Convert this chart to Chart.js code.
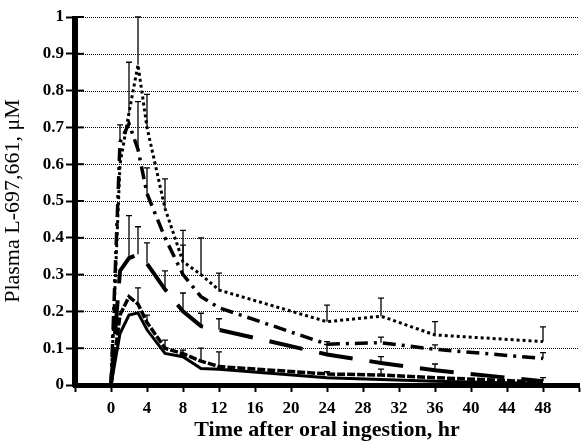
<!DOCTYPE html>
<html>
<head>
<meta charset="utf-8">
<script src="https://cdn.jsdelivr.net/npm/chart.js@4.4.1/dist/chart.umd.min.js"></script>
<style>
html, body { margin: 0; padding: 0; background: #fff; }
#wrap { width: 585px; height: 444px; }
</style>
</head>
<body>
<div id="wrap"><canvas id="plasma"></canvas></div>
<script>
var hours = [0, 1, 2, 3, 4, 6, 8, 10, 12, 24, 30, 36, 48]

// series, uM
var dotted    = [0, 0.60, 0.74, 0.87, 0.70, 0.48, 0.335, 0.30, 0.258, 0.172, 0.187, 0.136, 0.118]
var dottedErr = [null, null, 0.877, 1.0, 0.79, 0.56, 0.42, 0.40, 0.304, 0.217, 0.236, 0.172, 0.158]

var dashDot    = [0, 0.66, 0.71, 0.64, 0.52, 0.40, 0.30, 0.24, 0.21, 0.111, 0.115, 0.097, 0.072]
var dashDotErr = [null, 0.707, null, 0.77, 0.59, null, 0.38, null, null, 0.118, 0.13, 0.109, 0.088]

var longDash    = [0, 0.31, 0.345, 0.355, 0.33, 0.26, 0.20, 0.16, 0.15, 0.083, 0.06, 0.04, 0.01]
var longDashErr = [null, null, 0.46, 0.43, 0.386, 0.31, 0.25, 0.195, 0.18, 0.11, 0.077, 0.057, 0.02]

var shortDash    = [0, 0.19, 0.24, 0.22, 0.17, 0.10, 0.085, 0.065, 0.05, 0.03, 0.027, 0.02, 0.008]
var shortDashErr = [null, null, null, 0.264, 0.19, 0.122, 0.095, 0.10, 0.09, 0.036, 0.043, null, null]

var solid = [0, 0.14, 0.19, 0.196, 0.15, 0.086, 0.077, 0.045, 0.043, 0.02, 0.015, 0.01, 0.004]

function pts(vals) {
    return hours.map(function(h, i) { return {x: h, y: vals[i]} })
}

var serif = "'Liberation Serif', 'DejaVu Serif', serif"

// dotted grid behind the lines
var dottedGrid = {
    id: 'dottedGrid',
    beforeDatasetsDraw: function(chart) {
        var ctx = chart.ctx
        var y = chart.scales.y
        var area = chart.chartArea
        ctx.save()
        ctx.strokeStyle = '#000'
        ctx.lineWidth = 1
        ctx.setLineDash([1, 1])
        y.ticks.forEach(function(t) {
            if (t.value === 0) return
            var py = Math.round(y.getPixelForValue(t.value)) + 0.5
            ctx.beginPath()
            ctx.moveTo(area.left, py)
            ctx.lineTo(area.right, py)
            ctx.stroke()
        })
        ctx.restore()
    }
}

// thick y axis, y tick marks crossing into the plot, upward error bars
var errorBars = {
    id: 'errorBars',
    afterDatasetsDraw: function(chart) {
        var ctx = chart.ctx
        var x = chart.scales.x, y = chart.scales.y
        var area = chart.chartArea
        ctx.save()
        ctx.strokeStyle = '#000'
        ctx.lineWidth = 6
        ctx.beginPath()
        ctx.moveTo(area.left, area.top - 1)
        ctx.lineTo(area.left, area.bottom + 2)
        ctx.stroke()
        ctx.lineWidth = 2
        y.ticks.forEach(function(t) {
            var py = y.getPixelForValue(t.value)
            ctx.beginPath()
            ctx.moveTo(area.left, py)
            ctx.lineTo(area.left + 9, py)
            ctx.stroke()
        })
        ctx.lineWidth = 1.3
        chart.data.datasets.forEach(function(ds) {
            if (!ds.errTop) return
            ds.data.forEach(function(p, i) {
                var top = ds.errTop[i]
                if (top == null) return
                var px = x.getPixelForValue(p.x)
                var y0 = y.getPixelForValue(p.y)
                var y1 = y.getPixelForValue(top)
                ctx.beginPath()
                ctx.moveTo(px, y0)
                ctx.lineTo(px, y1)
                ctx.moveTo(px - 3, y1)
                ctx.lineTo(px + 3, y1)
                ctx.stroke()
            })
        })
        ctx.restore()
    }
}

function line(vals, err, dash, width) {
    return {
        data: pts(vals),
        errTop: err,
        borderColor: '#000',
        borderWidth: width,
        borderDash: dash,
        pointRadius: 0,
        tension: 0,
        fill: false
    }
}

var ctx = document.getElementById('plasma')
var chart = new Chart(ctx, {
    type: 'line',
    data: {
        datasets: [
            line(dotted, dottedErr, [3, 3], 3),
            line(dashDot, dashDotErr, [13, 6, 3, 6], 3.5),
            line(longDash, longDashErr, [34, 17], 4),
            line(shortDash, shortDashErr, [8, 2], 3.5),
            line(solid, null, [], 3)
        ]
    },
    plugins: [dottedGrid, errorBars],
    options: {
        responsive: true,
        maintainAspectRatio: false,
        animation: false,
        layout: { padding: { top: 17, right: 0, left: 0, bottom: 0 } },
        plugins: {
            legend: { display: false },
            tooltip: { enabled: false }
        },
        scales: {
            x: {
                type: 'linear',
                min: -4,
                max: 52,
                afterFit: function(scale) { scale.height = 59 },
                ticks: {
                    stepSize: 4,
                    autoSkip: false,
                    maxRotation: 0,
                    padding: 6,
                    color: '#000',
                    font: { family: serif, size: 17, weight: 'bold' },
                    callback: function(value) {
                        return (value < 0 || value > 48) ? '' : value
                    }
                },
                grid: {
                    drawOnChartArea: false,
                    drawTicks: true,
                    tickLength: 7,
                    tickWidth: 2,
                    tickColor: '#000'
                },
                border: { display: true, width: 5, color: '#000' },
                title: {
                    display: true,
                    text: 'Time after oral ingestion, hr',
                    color: '#000',
                    font: { family: serif, size: 22, weight: 'bold' },
                    padding: { top: 0, bottom: 0 }
                }
            },
            y: {
                min: 0,
                max: 1,
                afterFit: function(scale) { scale.width = 75 },
                ticks: {
                    stepSize: 0.1,
                    padding: 2,
                    color: '#000',
                    font: { family: serif, size: 17, weight: 'bold' },
                    callback: function(value) {
                        if (value === 0) return '0'
                        if (value === 1) return '1'
                        return value.toFixed(1)
                    }
                },
                grid: {
                    drawOnChartArea: false,
                    tickLength: 9,
                    tickWidth: 2,
                    tickColor: '#000'
                },
                border: { display: false },
                title: {
                    display: true,
                    text: 'Plasma L-697,661, \u03bcM',
                    color: '#000',
                    font: { family: serif, size: 22, weight: 'normal' },
                    padding: { top: 0, bottom: 2 }
                }
            }
        }
    }
})
</script>
</body>
</html>
